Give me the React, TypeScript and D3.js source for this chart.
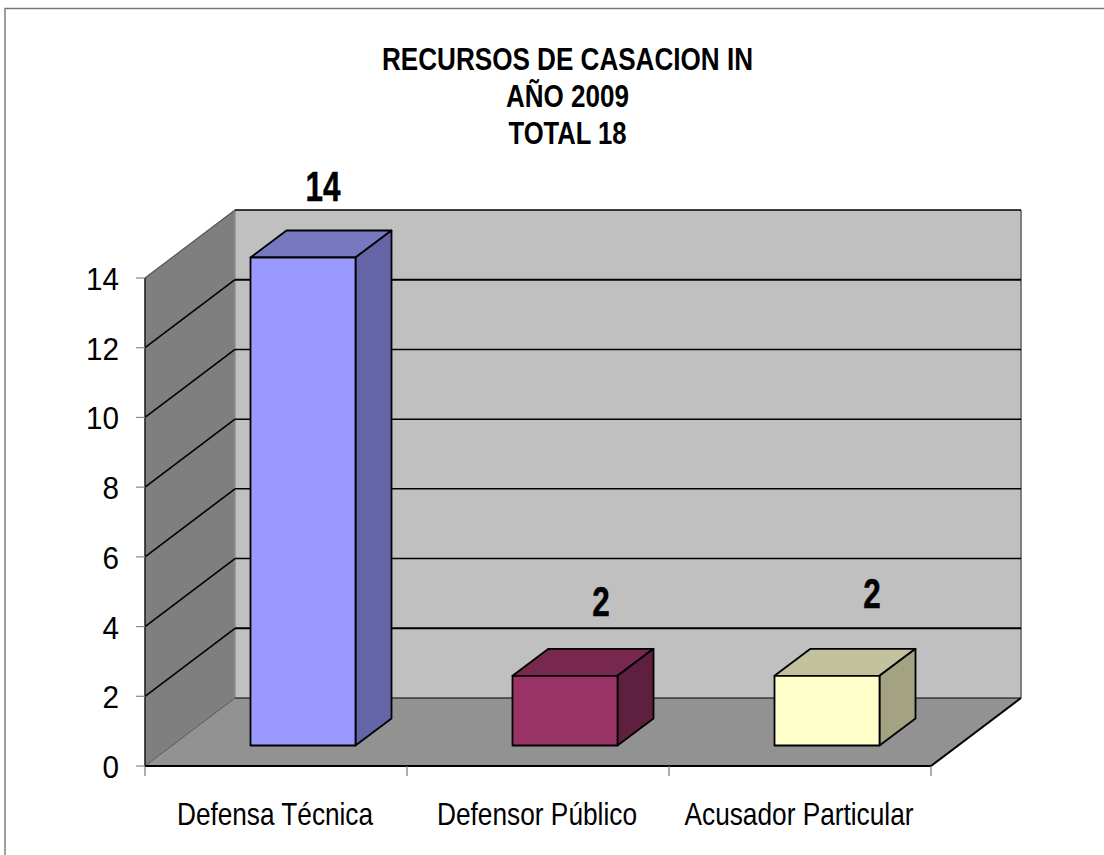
import React from "react";
import * as d3 from "d3";

const categories = ["Defensa Técnica", "Defensor Público", "Acusador Particular"];
const values = [14, 2, 2];
const yTicks = [0, 2, 4, 6, 8, 10, 12, 14];
const titleLines = ["RECURSOS DE CASACION IN", "AÑO 2009", "TOTAL 18"];
const faceColors = ["#9999ff", "#993366", "#ffffcc"];
const topColors = ["#7878c0", "#78284f", "#c2c29e"];
const sideColors = ["#6464a6", "#5f2040", "#a3a384"];

const titleWidths = [371, 123, 118];
const catLabelWidths = [196, 200, 229];
const labelDx = [20, 36, 45];
const labelLift = [57, 60, 68];

const W = 1104, H = 855;
const x0 = 145, x1 = 931, yBase = 766, yTop = 278;
const dx = 90, dy = -68;
const font = "'Liberation Sans', Arial, sans-serif";

export default function App() {
  const y = d3.scaleLinear().domain([0, 14]).range([yBase, yTop]);
  const xBand = d3.scaleBand<string>().domain(categories).range([x0, x1]);
  const poly = (p: [number, number][]) => d3.line()(p) + "Z";
  const barDx = 36, barDy = -27, barW = 105, barShift = 27, barLift = 20.5;
  return (
    <svg width={W} height={H} style={{ position: "absolute", left: 0, top: 0 }}>
      <rect x={0} y={0} width={W} height={H} fill="#fff" />
      <path d={`M5,${H}V8.5H${W}`} fill="none" stroke="#777" strokeWidth={1.4} />
      {/* back wall */}
      <path d={poly([[x0 + dx, y(0) + dy], [x1 + dx, y(0) + dy], [x1 + dx, y(14) + dy], [x0 + dx, y(14) + dy]])} fill="#c0c0c0" />
      {/* side wall */}
      <path d={poly([[x0, y(0)], [x0 + dx, y(0) + dy], [x0 + dx, y(14) + dy], [x0, y(14)]])} fill="#7f7f7f" />
      {/* floor */}
      <path d={poly([[x0, y(0)], [x1, y(0)], [x1 + dx, y(0) + dy], [x0 + dx, y(0) + dy]])} fill="#929292" />
      <line x1={x0 + dx} x2={x0 + dx} y1={y(0) + dy} y2={y(14) + dy} stroke="#8c8c8c" strokeWidth={1.4} />
      <line x1={x1 + dx} x2={x1 + dx} y1={y(0) + dy} y2={y(14) + dy} stroke="#808080" strokeWidth={2} />
      <line x1={x0} x2={x0 + dx} y1={y(0)} y2={y(0) + dy} stroke="#555" strokeWidth={1} />
      <line x1={x0} x2={x0 + dx} y1={y(14)} y2={y(14) + dy} stroke="#555" strokeWidth={1.2} />
      {/* grid */}
      {yTicks.map((t) => (
        <g key={t}>
          {t > 0 && t < 14 && <line x1={x0} y1={y(t)} x2={x0 + dx} y2={y(t) + dy} stroke="#000" strokeWidth={1.6} />}
          <line x1={x0 + dx} y1={y(t) + dy} x2={x1 + dx} y2={y(t) + dy} stroke="#000" strokeWidth={t === 0 ? 1.1 : t === 2 || t === 12 ? 2 : 1.5} />
        </g>
      ))}
      {/* axes */}
      <line x1={x0} y1={y(0)} x2={x0} y2={y(14)} stroke="#222" strokeWidth={1.6} />
      <line x1={x0} y1={y(0)} x2={x1} y2={y(0)} stroke="#000" strokeWidth={2} />
      <line x1={x1} y1={y(0)} x2={x1 + dx} y2={y(0) + dy} stroke="#000" strokeWidth={2} />
      {yTicks.map((t) => (
        <g key={t}>
          <line x1={x0 - 9} x2={x0} y1={y(t)} y2={y(t)} stroke="#888" strokeWidth={1.2} />
          <text x={119} y={y(t) + 12} textAnchor="end" fontFamily={font} fontSize={32} textLength={String(t).length * 16.5} lengthAdjust="spacingAndGlyphs" fill="#000">{t}</text>
        </g>
      ))}
      {d3.range(categories.length + 1).map((i) => {
        const px = x0 + (xBand.step() * i);
        return <line key={i} x1={px} x2={px} y1={y(0)} y2={y(0) + 10} stroke="#777" strokeWidth={1.2} />;
      })}
      {/* bars */}
      {categories.map((c, i) => {
        const left = (xBand(c) as number) + (xBand.bandwidth() - barW) / 2 + barShift;
        const right = left + barW;
        const top = y(values[i]) - barLift;
        const bottom = y(0) - barLift;
        return (
          <g key={c} stroke="#000" strokeWidth={1.8} strokeLinejoin="round">
            <path d={poly([[left, top], [right, top], [right + barDx, top + barDy], [left + barDx, top + barDy]])} fill={topColors[i]} />
            <path d={poly([[right, top], [right + barDx, top + barDy], [right + barDx, bottom + barDy], [right, bottom]])} fill={sideColors[i]} />
            <rect x={left} y={top} width={barW} height={bottom - top} fill={faceColors[i]} />
            <text x={(left + right) / 2 + labelDx[i]} y={top - labelLift[i]} textAnchor="middle" fontFamily={font} fontWeight="bold" fontSize={42} textLength={String(values[i]).length * 17.5} lengthAdjust="spacingAndGlyphs" fill="#000" stroke="#000" strokeWidth={0.5}>{values[i]}</text>
          </g>
        );
      })}
      {categories.map((c, i) => (
        <text key={c} x={(xBand(c) as number) + xBand.bandwidth() / 2 - 1} y={824.5} textAnchor="middle" fontFamily={font} fontSize={32} textLength={catLabelWidths[i]} lengthAdjust="spacingAndGlyphs" fill="#000">{c}</text>
      ))}
      {titleLines.map((t, i) => (
        <text key={t} x={567.5} y={69.5 + i * 37} textAnchor="middle" fontFamily={font} fontWeight="bold" fontSize={32} textLength={titleWidths[i]} lengthAdjust="spacingAndGlyphs" fill="#000">{t}</text>
      ))}
    </svg>
  );
}
